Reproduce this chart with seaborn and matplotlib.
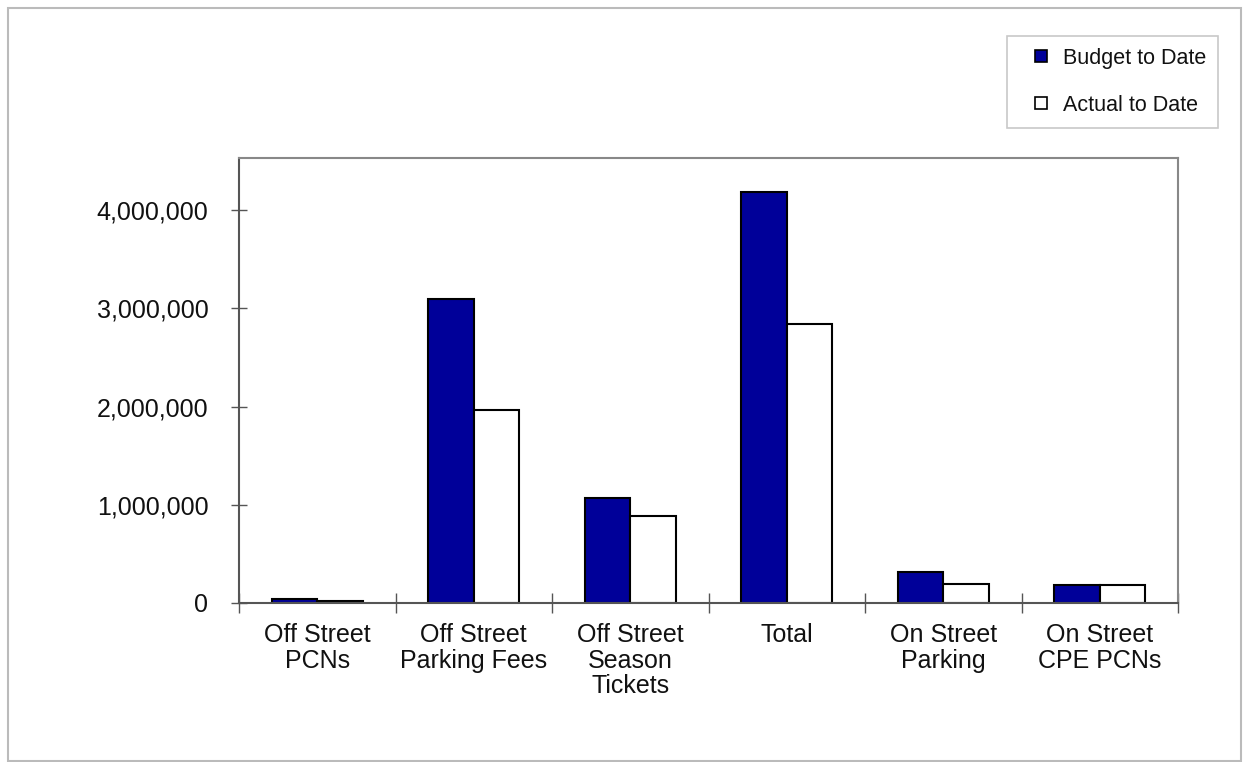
import matplotlib
matplotlib.use("Agg")
import matplotlib.pyplot as plt
import seaborn as sns
import pandas as pd
from matplotlib.patches import Rectangle
from matplotlib.lines import Line2D
from matplotlib.ticker import FuncFormatter, FixedLocator

categories = ["Off Street\nPCNs", "Off Street\nParking Fees", "Off Street\nSeason\nTickets",
              "Total", "On Street\nParking", "On Street\nCPE PCNs"]
budget = [40000, 3090000, 1070000, 4180000, 312000, 184000]
actual = [18000, 1960000, 885000, 2840000, 195000, 184000]
series = ["Budget to Date", "Actual to Date"]
colors = ["#000099", "#FFFFFF"]
yticks = [0, 1000000, 2000000, 3000000, 4000000]

df = pd.DataFrame({
    "cat": categories * 2,
    "val": budget + actual,
    "series": [series[0]] * len(categories) + [series[1]] * len(categories),
})

sns.set_theme(style="white")
plt.rcParams["font.family"] = ["Liberation Sans", "DejaVu Sans"]

fig = plt.figure(figsize=(12.44, 7.62), dpi=100)
ax = fig.add_axes([239/1244, 1-603/762, (1178-239)/1244, (603-158)/762])

sns.barplot(data=df, x="cat", y="val", hue="series", hue_order=series,
            palette=colors, width=0.58, gap=0, edgecolor="black", linewidth=1.5,
            saturation=1, ax=ax, legend=False)

ax.set_xlim(-0.5, len(categories) - 0.5)
ax.set_ylim(0, 4530000)
ax.set_yticks(yticks)
ax.yaxis.set_major_formatter(FuncFormatter(lambda v, p: f"{int(v):,}"))
ax.set_xlabel("")
ax.set_ylabel("")
ax.tick_params(axis="y", left=True, direction="inout", length=12, width=1, color="#555555",
               labelsize=18, pad=16, labelcolor="#111111")
ax.tick_params(axis="x", which="major", bottom=True, length=0, labelsize=18, pad=14.5,
               labelcolor="#111111")
for lbl in ax.get_xticklabels():
    lbl.set_linespacing(1.08)
ax.xaxis.set_minor_locator(FixedLocator([i - 0.5 for i in range(len(categories) + 1)]))
ax.tick_params(axis="x", which="minor", bottom=True, direction="inout", length=14, width=1,
               color="#555555")

for s in ["left", "bottom"]:
    ax.spines[s].set_color("#555555")
    ax.spines[s].set_linewidth(1.5)
for s in ["top", "right"]:
    ax.spines[s].set_color("#888888")
    ax.spines[s].set_linewidth(1.5)
    ax.spines[s].set_visible(True)

handles = [Line2D([], [], linestyle="none", marker="s", markersize=8,
                  markerfacecolor=c, markeredgecolor="black", markeredgewidth=1.2)
           for c in colors]
leg = fig.legend(handles, series, loc="upper left",
                 bbox_to_anchor=(1007/1244, 1-36/762), fontsize=15.5,
                 frameon=True, fancybox=False, handlelength=2.05, handleheight=0.7,
                 handletextpad=0.0, borderpad=0.55, labelspacing=1.2,
                 borderaxespad=0)
leg.get_frame().set_edgecolor("#BBBBBB")
leg.get_frame().set_linewidth(1.2)
for t in leg.get_texts():
    t.set_color("#111111")

fig.patches.append(Rectangle((8/1244, 1/762), 1233/1244, 753/762, transform=fig.transFigure,
                             fill=False, edgecolor="#BBBBBB", linewidth=1.5))

fig.savefig("out.png", dpi=100)
